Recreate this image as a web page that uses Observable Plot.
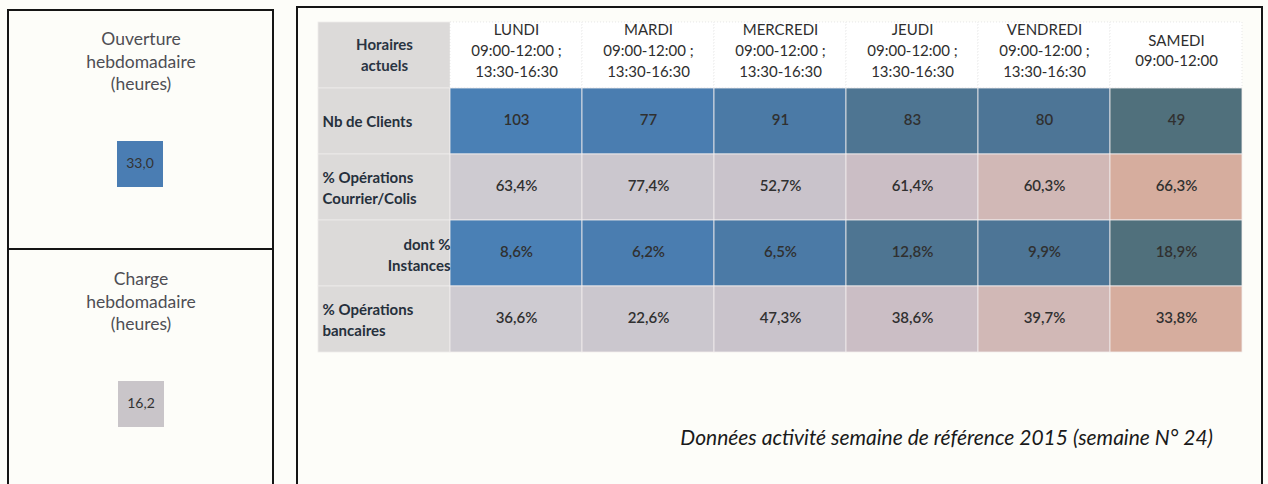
<!DOCTYPE html>
<html><head><meta charset="utf-8">
<script src="https://cdn.jsdelivr.net/npm/d3@7"></script>
<script src="https://cdn.jsdelivr.net/npm/@observablehq/plot@0.6"></script>
<style>
body{margin:0;background:#fdfdf9;}
#wrap{position:relative;width:1268px;height:484px;overflow:hidden;font-family:Lato,"Open Sans",sans-serif;}
.box{position:absolute;box-sizing:border-box;border:2px solid #151515;}
.ttl{position:absolute;left:9px;width:264px;text-align:center;color:#4e4e54;font-size:17.5px;line-height:22.5px;}
.sq{position:absolute;}
#cap{position:absolute;right:55px;top:424px;font-style:italic;font-size:21px;color:#1a1a1a;font-family:Lato,"Open Sans",sans-serif;}
#plot{position:absolute;left:0;top:0;}
</style></head><body><div id="wrap">
<div class="box" style="left:7px;top:9px;width:267px;height:241px;"></div>
<div class="box" style="left:7px;top:248px;width:267px;height:260px;"></div>
<div class="box" style="left:296px;top:6px;width:967px;height:500px;"></div>
<div class="ttl" style="top:28px;">Ouverture<br>hebdomadaire<br>(heures)</div>
<div class="ttl" style="top:268px;">Charge<br>hebdomadaire<br>(heures)</div>
<div class="sq" id="sq1" style="left:111px;top:135px;"></div>
<div class="sq" id="sq2" style="left:112px;top:375px;"></div>
<div id="plot"></div>
<div id="cap">Données activité semaine de référence 2015 (semaine N° 24)</div>
</div>
<script>
// ---- data ----
const days = ["LUNDI", "MARDI", "MERCREDI", "JEUDI", "VENDREDI", "SAMEDI"];
const hours = ["09:00-12:00 ;\n13:30-16:30", "09:00-12:00 ;\n13:30-16:30", "09:00-12:00 ;\n13:30-16:30", "09:00-12:00 ;\n13:30-16:30", "09:00-12:00 ;\n13:30-16:30", "09:00-12:00"];
const headerLabel = "Horaires\nactuels";
const rowLabels = ["Nb de Clients", "% Opérations\nCourrier/Colis", "dont %\nInstances", "% Opérations\nbancaires"];
const nbClients = [103, 77, 91, 83, 80, 49];
const pctCourrier = [63.4, 77.4, 52.7, 61.4, 60.3, 66.3];
const pctInstances = [8.6, 6.2, 6.5, 12.8, 9.9, 18.9];
const pctBancaires = [36.6, 22.6, 47.3, 38.6, 39.7, 33.8];
const ouverture = 33.0;
const charge = 16.2;

// ---- styling ----
const blueCols = ["#4a80b5", "#4a7db0", "#4b7aa6", "#4e7592", "#4d7596", "#50707c"];
const grayCols = ["#cecbd1", "#cbc7ce", "#c9c3cb", "#cbbec5", "#d1b8b6", "#d6ad9e"];
const fmtPct = v => d3.format(".1f")(v).replace(".", ",") + "%";

const series = [
  {label: rowLabels[0], values: nbClients, fmt: v => String(v), kind: "blue"},
  {label: rowLabels[1], values: pctCourrier, fmt: fmtPct, kind: "gray"},
  {label: rowLabels[2], values: pctInstances, fmt: fmtPct, kind: "blue"},
  {label: rowLabels[3], values: pctBancaires, fmt: fmtPct, kind: "gray"}
];
const cells = series.flatMap(s => s.values.map((v, i) => ({row: s.label, day: days[i], i, value: v, text: s.fmt(v), kind: s.kind})));
const header = days.map((d, i) => ({day: d, text: d + "\n" + hours[i]}));
const LBL = "_label", HEAD = "_head";
const FONT = "Lato, 'Open Sans', sans-serif";

const plot = Plot.plot({
  width: 1268, height: 484,
  marginLeft: 318, marginRight: 26, marginTop: 20, marginBottom: 131,
  style: {background: "transparent", fontFamily: FONT},
  x: {domain: [LBL, ...days], padding: 0, axis: null},
  y: {domain: [HEAD, ...rowLabels], padding: 0, axis: null},
  marks: [
    Plot.cell([HEAD, ...rowLabels], {x: () => LBL, y: d => d, fill: "#dcdad9", stroke: "#eeeceb", strokeWidth: 0.8}),
    Plot.cell(header, {x: "day", y: () => HEAD, fill: "white", stroke: "#d8d8d8", strokeWidth: 0.6, strokeDasharray: "1,2"}),
    Plot.cell(cells, {x: "day", y: "row", fill: d => (d.kind === "blue" ? blueCols : grayCols)[d.i], stroke: "#f2eeee", strokeWidth: 0.8}),
    Plot.text([headerLabel], {x: () => LBL, y: () => HEAD, text: d => d, fontWeight: "bold", fontSize: 15, lineHeight: 1.4, fill: "#2a3442", dy: -2}),
    Plot.text(header, {x: "day", y: () => HEAD, text: "text", fontSize: 15, lineHeight: 1.38, fill: "#2e2e2e", dy: -6}),
    Plot.text([rowLabels[0], rowLabels[1], rowLabels[3]], {y: d => d, frameAnchor: "left", textAnchor: "start", dx: 4, text: d => d, fontWeight: "bold", fontSize: 15, lineHeight: 1.4, fill: "#26303c", dy: -1}),
    Plot.text([rowLabels[2]], {x: () => LBL, y: d => d, textAnchor: "end", dx: 66, text: d => d, fontWeight: "bold", fontSize: 15, lineHeight: 1.4, fill: "#26303c"}),
    Plot.text(cells, {x: "day", y: "row", text: "text", fontSize: 15, fontWeight: 600, fill: "#303030", dy: -1})
  ]
});
document.getElementById("plot").appendChild(plot);

function square(value, color) {
  return Plot.plot({
    width: 57, height: 57, margin: 0,
    style: {background: "transparent", fontFamily: FONT},
    marks: [
      Plot.cell([value], {fill: color}),
      Plot.text([value], {text: d => d3.format(".1f")(d).replace(".", ","), frameAnchor: "middle", fontSize: 14, fill: "#333"})
    ]
  });
}
document.getElementById("sq1").appendChild(square(ouverture, "#4a7db3"));
document.getElementById("sq2").appendChild(square(charge, "#c9c5c9"));
</script>
</body></html>
